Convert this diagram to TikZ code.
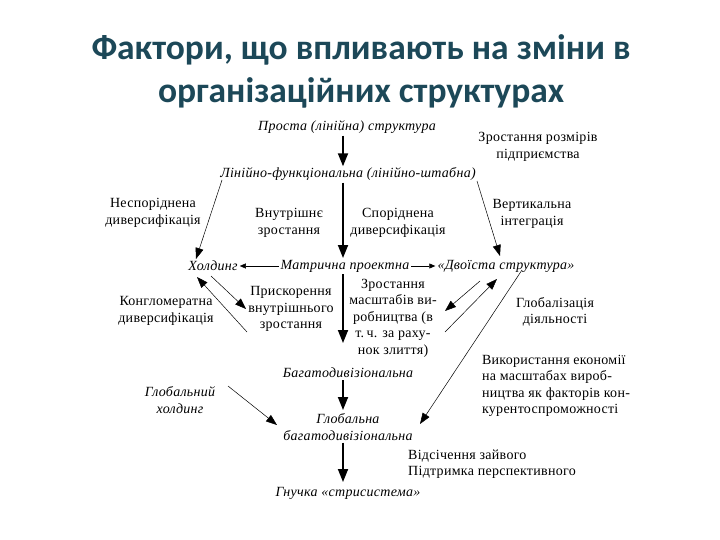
\documentclass[tikz,border=0pt]{standalone}
\usepackage{fontspec}
\setmainfont{Liberation Serif}
\newfontfamily\titlefont{Carlito}
\newfontfamily\dfont[LetterSpace=2]{Liberation Serif}
\usetikzlibrary{arrows.meta}
\definecolor{titlecol}{RGB}{28,72,88}
\begin{document}
\begin{tikzpicture}[x=1pt,y=-1pt,
  lbl/.style={font=\dfont\fontsize{14}{16.5}\selectfont, inner sep=0pt, align=center},
  itl/.style={lbl, font=\dfont\itshape\fontsize{14}{16.5}\selectfont},
  bigarrow/.style={line width=1.8pt, -{Triangle[length=13pt,width=10pt]}, shorten >=1pt, shorten <=2pt},
  thinarrow/.style={line width=0.5pt, -{Triangle[length=11pt,width=8pt]}},
  smallarrow/.style={line width=0.5pt, -{Triangle[length=6pt,width=5pt]}, shorten >=2pt, shorten <=2pt},
  plainline/.style={line width=0.5pt}]
\useasboundingbox (0,0) rectangle (720,540);
\fill[white] (0,0) rectangle (720,540);

% title
\node[font=\titlefont\bfseries\fontsize{35.5}{43}\selectfont, text=titlecol, align=center] (title) at (361,71) {Фактори, що впливають на зміни в\\організаційних структурах};

% nodes
\node[itl] (pr) at (347,127) {Проста (лінійна) структура};
\node[lbl] (zr) at (538,147) {Зростання розмірів\\підприємства};
\node[itl] (lf) at (348,174) {Лінійно-функціональна (лінійно-штабна)};
\node[lbl] (nd) at (153,213) {Неспоріднена\\диверсифікація};
\node[lbl] (vz) at (289,223) {Внутрішнє\\зростання};
\node[lbl] (sd) at (398,223) {Споріднена\\диверсифікація};
\node[lbl] (vi) at (532,214) {Вертикальна\\інтеграція};
\node[itl] (hol) at (213,266) {Холдинг};
\node[itl] (mp) at (345,266) {Матрична проектна};
\node[itl] (dv) at (506,266) {«Двоїста структура»};
\node[lbl] (kd) at (166,311) {Конгломератна\\диверсифікація};
\node[lbl] (pv) at (291,309) {Прискорення\\внутрішнього\\зростання};
\node[lbl] (zm) at (393,318) {Зростання\\масштабів ви-\\робництва (в\\т.\,ч. за раху-\\нок злиття)};
\node[lbl] (gd) at (555,312) {Глобалізація\\діяльності};
\node[lbl, align=left] (ve) at (556,386) {Використання економії\\на масштабах вироб-\\ництва як факторів кон-\\курентоспроможності};
\node[itl] (bd) at (348,373) {Багатодивізіональна};
\node[itl] (gh) at (180,400) {Глобальний\\холдинг};
\node[itl] (gb) at (348,427) {Глобальна\\багатодивізіональна};
\node[lbl, align=left, anchor=west] (vs) at (408,464) {Відсічення зайвого\\Підтримка перспективного};
\node[itl] (gn) at (348,493) {Гнучка «стрисистема»};

% vertical axis
\coordinate (ax) at (343,0);
\draw[bigarrow] (ax |- pr.south) -- (ax |- lf.north);
\draw[bigarrow] (ax |- lf.south) -- (ax |- 0,259);
\draw[bigarrow] (ax |- mp.south) -- (ax |- 0,344);
\draw[bigarrow] (ax |- bd.south) -- (ax |- 0,411);
\draw[bigarrow] (ax |- gb.south) -- (ax |- 0,483);

% horizontal arrows
\draw[smallarrow] (mp.west) -- (hol.east);
\draw[smallarrow] (mp.east) -- (dv.west);

% diagonal arrows from Лінійно-функціональна
\coordinate (lfL) at (222,180);
\coordinate (hTop) at (196,259);
\coordinate (lfR) at (477,181);
\coordinate (dTop) at (500,256);
\draw[thinarrow] (lfL) -- (hTop);
\draw[thinarrow] (lfR) -- (dTop);

% pair between Холдинг and Прискорення
\coordinate (a1) at (247,332);
\coordinate (a2) at (197,277);
\coordinate (b1) at (211,276);
\coordinate (b2) at (246,309);
\draw[thinarrow] (a1) -- (a2);
\draw[thinarrow] (b1) -- (b2);

% pair between «Двоїста структура» and Зростання масштабів
\coordinate (c1) at (480,281);
\coordinate (c2) at (445,311);
\coordinate (d1) at (445,332);
\coordinate (d2) at (497,279);
\draw[thinarrow] (c1) -- (c2);
\draw[thinarrow] (d1) -- (d2);

% long arrow to Глобальна багатодивізіональна
\coordinate (e1) at (522,270);
\coordinate (e2) at (420,424);
\draw[thinarrow] (e1) -- (e2);

% Глобальний холдинг arrow
\coordinate (g1) at (228,386);
\coordinate (g2) at (277,425);
\draw[thinarrow] (g1) -- (g2);
\end{tikzpicture}
\end{document}
